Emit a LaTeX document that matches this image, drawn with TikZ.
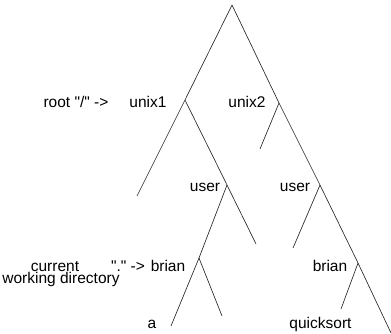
\documentclass[tikz,border=0pt]{standalone}
\usepackage{fontspec}
\setmainfont{Liberation Sans}[Ligatures=TeXOff]
\begin{document}
\begin{tikzpicture}[x=1pt,y=-1pt,
  edge/.style={black!85,line width=0.65pt},
  lbl/.style={anchor=base,inner sep=0pt,font=\fontsize{15.5}{18}\selectfont}]
\useasboundingbox (0,0) rectangle (391,333);
% junctions
\coordinate (apex) at (232,5);
\coordinate (u1) at (185,100);
\coordinate (u2) at (279,103);
\coordinate (us1) at (227,185);
\coordinate (us2) at (320,185);
\coordinate (b1) at (199,258);
\coordinate (b2) at (358,263);
% free ends
\coordinate (e1) at (137,196);
\coordinate (e2) at (260,149);
\coordinate (e3) at (256,244);
\coordinate (e4) at (293,248);
\coordinate (e5) at (391,333);
\coordinate (e6) at (341,309);
\coordinate (e7) at (171,326);
\coordinate (e8) at (222,316);
% edges
\draw[edge] (e1) -- (u1) -- (apex) -- (u2) -- (us2) -- (b2) -- (e5);
\draw[edge] (u1) -- (us1);
\draw[edge] (u2) -- (e2);
\draw[edge] (us1) -- (b1);
\draw[edge] (us1) -- (e3);
\draw[edge] (us2) -- (e4);
\draw[edge] (b2) -- (e6);
\draw[edge] (b1) -- (e7);
\draw[edge] (b1) -- (e8);
% labels
\node[lbl] (root) at (76,107) {root "/" ->};
\node[lbl] (unixa) at (148,107) {unix1};
\node[lbl] (unixb) at (247,107) {unix2};
\node[lbl] (usera) at (205,191.5) {user};
\node[lbl] (userb) at (295,191.5) {user};
\node[lbl] (dot) at (128,271.5) {"." ->};
\node[lbl] (briana) at (168,271.5) {brian};
\node[lbl] (brianb) at (330,271.5) {brian};
\node[lbl] (cwda) at (55,271) {current};
\node[lbl] (cwdb) at (61,283.6) {working directory};
\node[lbl] (a) at (152,328) {a};
\node[lbl] (qs) at (320.5,328) {quicksort};
\end{tikzpicture}
\end{document}
